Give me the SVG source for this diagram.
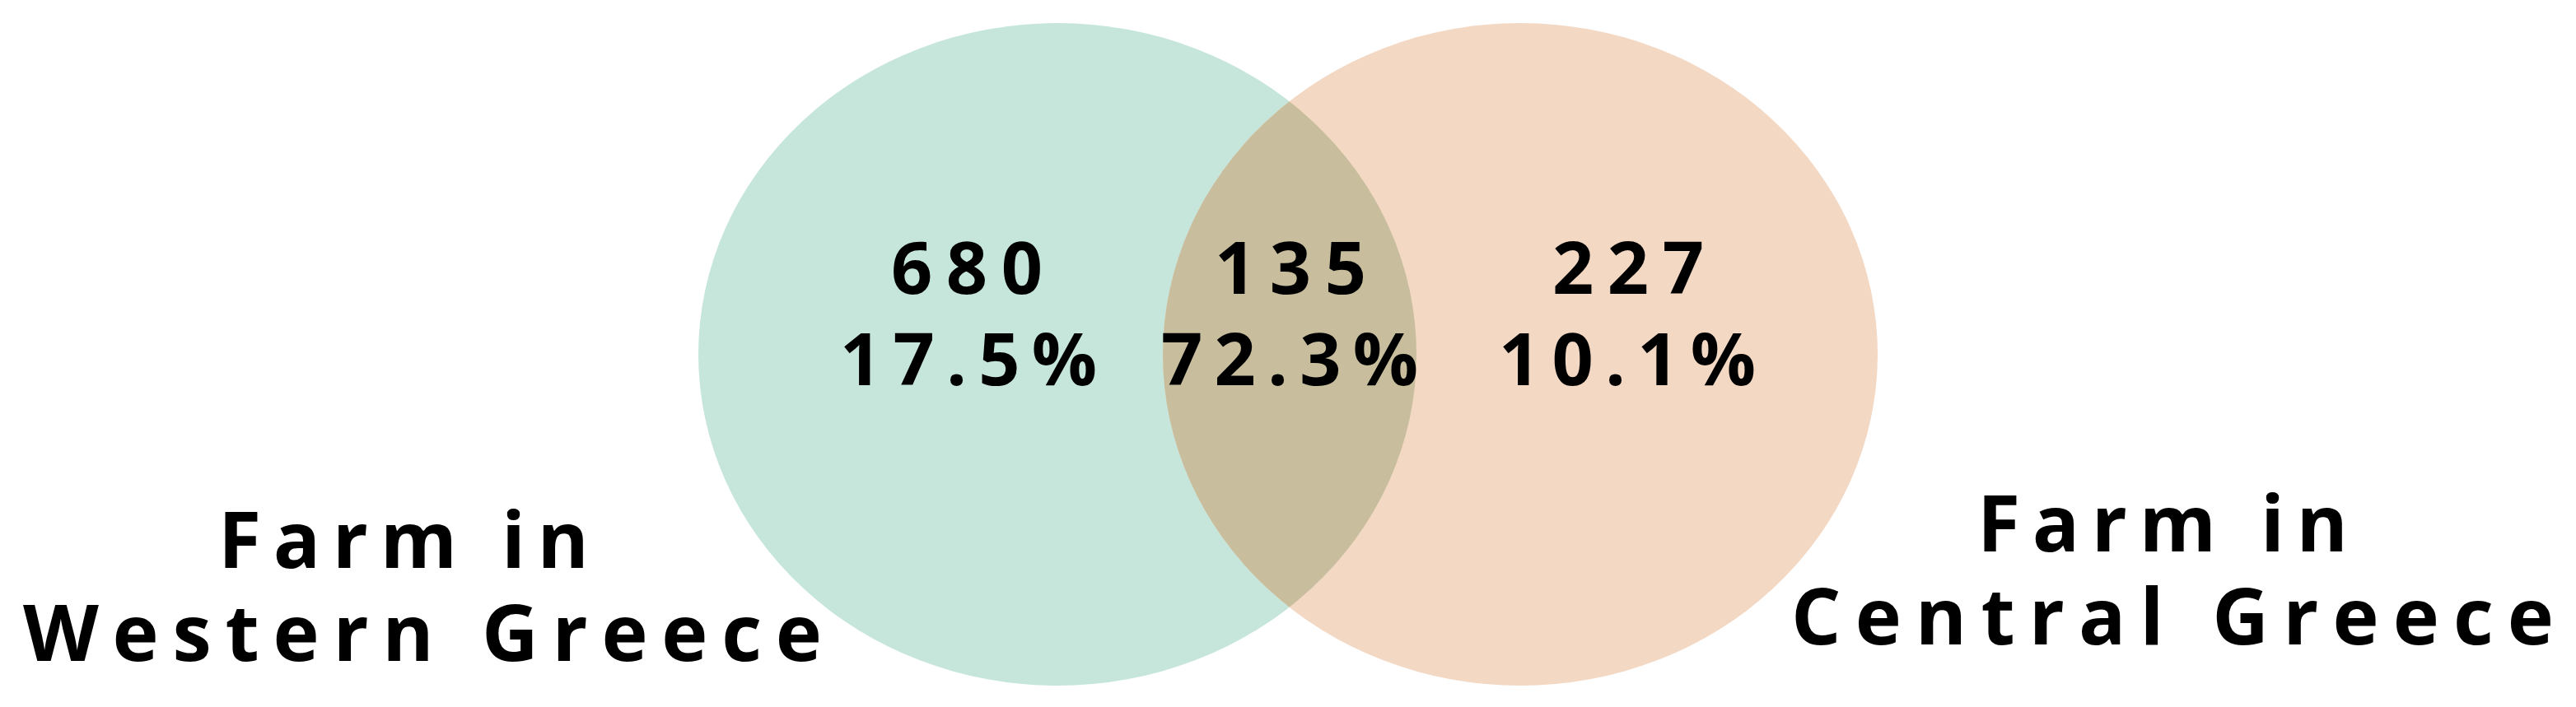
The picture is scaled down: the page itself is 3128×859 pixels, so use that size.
<svg xmlns="http://www.w3.org/2000/svg" width="3128" height="859" viewBox="0 0 3128 859">
<style>
.t{font-family:"Open Sans","Noto Sans","Liberation Sans",sans-serif;font-weight:700;fill:#000;}
.n{font-size:88px;}
.l{font-size:95px;}
</style>
<defs>
<clipPath id="clipL"><ellipse cx="1284" cy="430.5" rx="436" ry="402.5"/></clipPath>
</defs>
<rect width="3128" height="859" fill="#fff"/>
<g id="set-western">
<ellipse cx="1284" cy="430.5" rx="436" ry="402.5" fill="#C6E6DC"/>
</g>
<g id="set-central">
<ellipse cx="1846" cy="430.5" rx="434" ry="402.5" fill="#F3D8C4"/>
</g>
<g id="overlap">
<ellipse cx="1846" cy="430.5" rx="434" ry="402.5" fill="#C8BE9E" clip-path="url(#clipL)"/>
</g>
<g id="connectors"></g>
<g id="label-only-western">
<text class="t n" x="1174" y="357" text-anchor="middle" textLength="184" lengthAdjust="spacing">680</text>
<text class="t n" x="1176" y="468" text-anchor="middle" textLength="312" lengthAdjust="spacing">17.5%</text>
</g>
<g id="label-both">
<text class="t n" x="1567" y="357" text-anchor="middle" textLength="184" lengthAdjust="spacing">135</text>
<text class="t n" x="1566" y="468" text-anchor="middle" textLength="312" lengthAdjust="spacing">72.3%</text>
</g>
<g id="label-only-central">
<text class="t n" x="1977" y="357" text-anchor="middle" textLength="184" lengthAdjust="spacing">227</text>
<text class="t n" x="1976" y="468" text-anchor="middle" textLength="312" lengthAdjust="spacing">10.1%</text>
</g>
<g id="title-western">
<text class="t l" x="265" y="690" textLength="450" lengthAdjust="spacing">Farm in</text>
<text class="t l" x="28" y="803" textLength="970" lengthAdjust="spacing">Western Greece</text>
</g>
<g id="title-central">
<text class="t l" x="2401" y="670" textLength="450" lengthAdjust="spacing">Farm in</text>
<text class="t l" x="2175" y="783" textLength="926" lengthAdjust="spacing">Central Greece</text>
</g>
</svg>
